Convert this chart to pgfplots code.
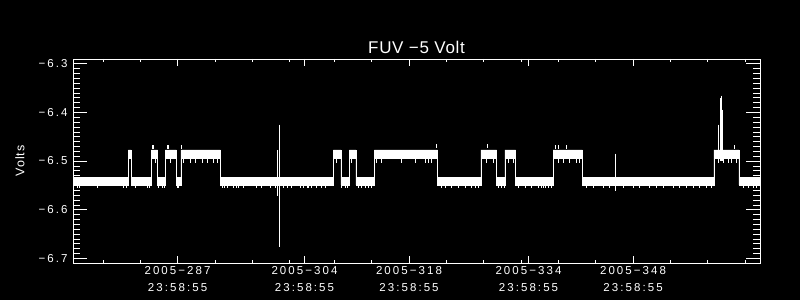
\documentclass[border=0pt]{standalone}
\usepackage{pgfplots}
\pgfplotsset{compat=1.18}
\usepackage{fontspec}
\setmainfont{Liberation Sans}
\newfontfamily\labfont[LetterSpace=18]{Liberation Sans}
\newfontfamily\ylabfont[LetterSpace=8]{Liberation Sans}
\newfontfamily\titfont[LetterSpace=4]{Liberation Sans}
\begin{document}
\begin{tikzpicture}
\useasboundingbox (0,0) rectangle (800bp,300bp);
\fill[black] (0,0) rectangle (800bp,300bp);
\pgfplotsset{
  idlbase/.style={
    at={(73bp,37bp)}, anchor=south west,
    scale only axis, width=687bp, height=204bp,
    xmin=273, xmax=365, ymin=-6.7095, ymax=-6.2904,
    axis line style={white, line width=0.7bp},
    tick style={white, line width=0.6bp},
    tick align=inside,
    ticklabel style={text=white},
  }
}
\begin{axis}[idlbase,
  xtick=\empty,
  ytick={-6.7,-6.6,-6.5,-6.4,-6.3},
  yticklabels={−6.7,−6.6,−6.5,−6.4,−6.3},
  minor y tick num=9,
  major tick length=14bp, minor tick length=7bp,
  yticklabel style={font=\labfont\fontsize{11.5bp}{12bp}\selectfont, anchor=east, inner sep=0pt, xshift=-5.2bp},
  ylabel={Volts},
  every axis y label/.style={at={(axis description cs:-0.0771,0.5)}, rotate=90, anchor=center, text=white, font=\ylabfont\fontsize{12.5bp}{13bp}\selectfont},
  title={FUV −5 Volt},
  every axis title/.style={at={(axis description cs:0.5,1.028)}, anchor=base, text=white, font=\titfont\fontsize{17bp}{18bp}\selectfont},
]
% band polygon: upper edge left to right, lower edge right to left
\addplot[fill=white, draw=white, line width=0.5bp] coordinates {
(273,-6.534) (280.40,-6.534) (280.40,-6.477) (280.77,-6.477) (280.77,-6.534) (283.48,-6.534) (283.48,-6.477) (284.32,-6.477) (284.32,-6.534) (285.38,-6.534) (285.38,-6.477) (286.83,-6.477) (286.83,-6.534) (287.43,-6.534) (287.43,-6.477) (292.75,-6.477) (292.75,-6.534) (307.87,-6.534) (307.87,-6.477) (308.86,-6.477) (308.86,-6.534) (310.01,-6.534) (310.01,-6.477) (310.87,-6.477) (310.87,-6.534) (313.35,-6.534) (313.35,-6.477) (321.84,-6.477) (321.84,-6.534) (327.63,-6.534) (327.63,-6.477) (329.73,-6.477) (329.73,-6.534) (330.84,-6.534) (330.84,-6.477) (332.27,-6.477) (332.27,-6.534) (337.30,-6.534) (337.30,-6.477) (341.23,-6.477) (341.23,-6.534) (358.84,-6.534) (358.84,-6.477) (362.18,-6.477) (362.18,-6.534) (365,-6.534)
(365,-6.549) (362.18,-6.549) (362.18,-6.494) (358.84,-6.494) (358.84,-6.549) (341.23,-6.549) (341.23,-6.494) (337.30,-6.494) (337.30,-6.549) (332.27,-6.549) (332.27,-6.494) (330.84,-6.494) (330.84,-6.549) (329.73,-6.549) (329.73,-6.494) (327.63,-6.494) (327.63,-6.549) (321.84,-6.549) (321.84,-6.494) (313.35,-6.494) (313.35,-6.549) (310.87,-6.549) (310.87,-6.494) (310.01,-6.494) (310.01,-6.549) (308.86,-6.549) (308.86,-6.494) (307.87,-6.494) (307.87,-6.549) (292.75,-6.549) (292.75,-6.494) (287.43,-6.494) (287.43,-6.549) (286.83,-6.549) (286.83,-6.494) (285.38,-6.494) (285.38,-6.549) (284.32,-6.549) (284.32,-6.494) (283.48,-6.494) (283.48,-6.549) (280.77,-6.549) (280.77,-6.494) (280.40,-6.494) (280.40,-6.549) (273,-6.549)
};
% dips below the low band
\addplot[only marks, mark=|, mark size=2bp, white, mark options={line width=0.7bp}] coordinates {
(273.54,-6.551) (273.89,-6.551) (276.30,-6.551) (279.78,-6.551) (280.14,-6.551) (281.34,-6.551) (282.91,-6.551) (283.25,-6.551) (284.46,-6.551) (284.91,-6.551) (285.26,-6.551) (286.92,-6.551) (287.13,-6.551) (292.94,-6.551) (293.25,-6.551) (293.61,-6.551) (294.49,-6.551) (294.85,-6.551) (295.08,-6.551) (295.83,-6.551) (297.62,-6.551) (298.29,-6.551) (299.40,-6.551) (300.07,-6.551) (301.18,-6.551) (301.64,-6.551) (302.30,-6.551) (303.41,-6.551) (303.86,-6.551) (304.39,-6.551)
(304.53,-6.551) (304.98,-6.551) (305.65,-6.551) (306.32,-6.551) (306.76,-6.551) (308.99,-6.551) (309.43,-6.551) (309.80,-6.551) (311.21,-6.551) (311.67,-6.551) (312.11,-6.551) (312.55,-6.551) (313.01,-6.551) (322.37,-6.551) (322.81,-6.551) (323.71,-6.551) (324.59,-6.551) (325.49,-6.551) (326.38,-6.551) (326.82,-6.551) (327.27,-6.551) (329.94,-6.551) (330.40,-6.551) (330.75,-6.551) (332.62,-6.551) (333.52,-6.551) (334.41,-6.551) (335.29,-6.551) (335.96,-6.551)
(335.75,-6.551) (336.19,-6.551) (336.63,-6.551) (337.09,-6.551) (341.77,-6.551) (342.65,-6.551) (343.99,-6.551) (344.89,-6.551) (346.67,-6.551) (348.01,-6.551) (348.90,-6.551) (350.24,-6.551) (351.13,-6.551) (352.02,-6.551) (353.35,-6.551) (354.25,-6.551) (355.14,-6.551) (356.02,-6.551) (356.92,-6.551) (357.82,-6.551) (358.49,-6.551) (362.72,-6.551) (363.39,-6.551) (364.06,-6.551) (364.51,-6.551)
};
% dips below the high band
\addplot[only marks, mark=|, mark size=2.5bp, white, mark options={line width=0.7bp}] coordinates {
(284.02,-6.499) (286.02,-6.499) (287.80,-6.499) (288.70,-6.499) (289.37,-6.499) (290.26,-6.499) (290.93,-6.499) (291.82,-6.499) (292.27,-6.499)
(308.32,-6.499) (310.33,-6.499) (313.68,-6.499) (314.34,-6.499) (317.02,-6.499) (318.80,-6.499) (320.14,-6.499) (320.58,-6.499) (321.03,-6.499) (328.39,-6.499) (329.27,-6.499) (331.28,-6.499) (331.95,-6.499)
(337.97,-6.499) (338.64,-6.499) (339.53,-6.499) (340.43,-6.499) (340.87,-6.499) (359.37,-6.499) (360.04,-6.499) (360.71,-6.499) (361.17,-6.499) (361.84,-6.499)
};
% small upward spikes on the high band
\addplot[only marks, mark=|, mark size=2bp, white, mark options={line width=0.7bp}] coordinates {
(283.58,-6.472) (283.79,-6.472) (285.58,-6.472) (285.80,-6.472) (287.45,-6.472) (321.70,-6.470) (328.43,-6.470) (337.66,-6.472) (337.97,-6.472) (339.10,-6.472) (361.50,-6.472)
};
% isolated spikes
\addplot[white, line width=0.7bp] coordinates {(300.40,-6.477) (300.40,-6.5726)};
\addplot[white, line width=0.7bp] coordinates {(300.65,-6.425) (300.65,-6.676)};
\addplot[white, line width=0.8bp] coordinates {(345.69,-6.485) (345.69,-6.562)};
\addplot[white, line width=0.9bp] coordinates {(359.47,-6.4253) (359.47,-6.500)};
\addplot[white, line width=0.9bp] coordinates {(359.64,-6.3705) (359.64,-6.500)};
\addplot[white, line width=0.9bp] coordinates {(359.78,-6.3657) (359.78,-6.500)};
\addplot[white, line width=0.9bp] coordinates {(359.91,-6.3945) (359.91,-6.500)};
\end{axis}
\begin{axis}[idlbase,
  ytick=\empty,
  xtick={287,304,318,334,348},
  xticklabels={{2005−287\\23:58:55},{2005−304\\23:58:55},{2005−318\\23:58:55},{2005−334\\23:58:55},{2005−348\\23:58:55}},
  minor xtick={277,282,292,297,302,308,313,323,328,333,338,343,353,358,363},
  major tick length=7bp, minor tick length=3.3bp,
  xticklabel style={font=\labfont\fontsize{11.5bp}{17bp}\selectfont, align=center, anchor=north, inner sep=0pt, yshift=-3.5bp},
]
\end{axis}
\end{tikzpicture}
\end{document}
